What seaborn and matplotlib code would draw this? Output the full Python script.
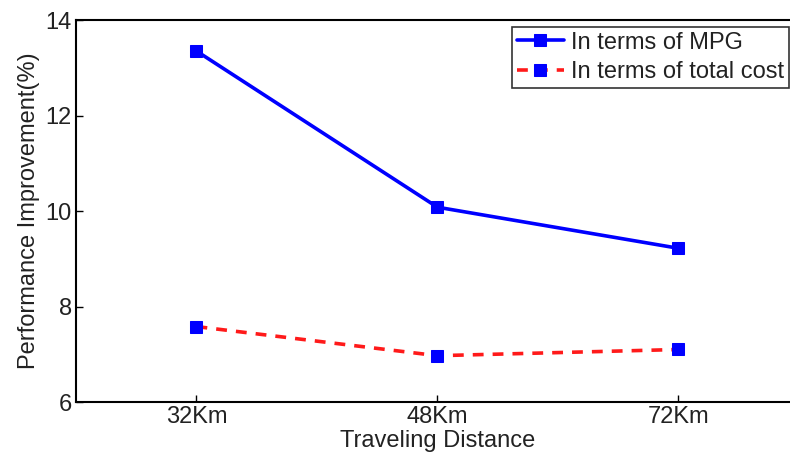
import matplotlib
matplotlib.use("Agg")
import matplotlib.pyplot as plt
import seaborn as sns
import pandas as pd

distances = ["32Km", "48Km", "72Km"]
mpg_improvement = [13.35, 10.08, 9.22]
cost_improvement = [7.58, 6.97, 7.10]
y_ticks = [6, 8, 10, 12, 14]

sns.set_style("white")
plt.rcParams["font.family"] = ["Liberation Sans", "DejaVu Sans"]

df = pd.DataFrame({
    "distance": distances * 2,
    "value": mpg_improvement + cost_improvement,
    "series": ["In terms of MPG"] * 3 + ["In terms of total cost"] * 3,
})

fig = plt.figure(figsize=(7.9, 4.54), dpi=100)
ax = fig.add_axes([0.0962, 0.1145, 0.915, 0.8414])

sns.lineplot(data=df[df.series == "In terms of MPG"], x="distance", y="value",
             color="#0000ff", linewidth=2.6, marker="s", markersize=8,
             markerfacecolor="#0000ff", markeredgecolor="#0000ff",
             label="In terms of MPG", ax=ax, sort=False)
sns.lineplot(data=df[df.series == "In terms of total cost"], x="distance", y="value",
             color="#ff1a1a", linewidth=2.6, linestyle=(0, (3, 2.5)), marker="s",
             markersize=8, markerfacecolor="#0000ff", markeredgecolor="#0000ff",
             label="In terms of total cost", ax=ax, sort=False)

ax.set_xlim(-0.5, 2.5)
ax.set_ylim(6, 14)
ax.set_yticks(y_ticks)
ax.set_yticklabels([str(t) for t in y_ticks])
ax.tick_params(axis="both", direction="in", length=5, width=1, labelsize=17,
               colors="black", labelcolor="#222222", pad=3)
ax.tick_params(top=False, right=False, bottom=True, left=True)
ax.set_xlabel("Traveling Distance", fontsize=17, color="#222222", labelpad=1)
ax.set_ylabel("Performance Improvement(%)", fontsize=17, color="#222222", labelpad=4)

for s in ax.spines.values():
    s.set_color("black")
    s.set_linewidth(1.5)

leg = ax.legend(loc="upper left", bbox_to_anchor=(0.603, 0.982), fontsize=17,
                frameon=True, fancybox=False, edgecolor="black", handlelength=2.0,
                handletextpad=0.3, borderpad=0.2, labelspacing=0.33,
                borderaxespad=0)
leg.get_frame().set_linewidth(1.2)
for t in leg.get_texts():
    t.set_color("#222222")

fig.savefig("out.png", dpi=100)
